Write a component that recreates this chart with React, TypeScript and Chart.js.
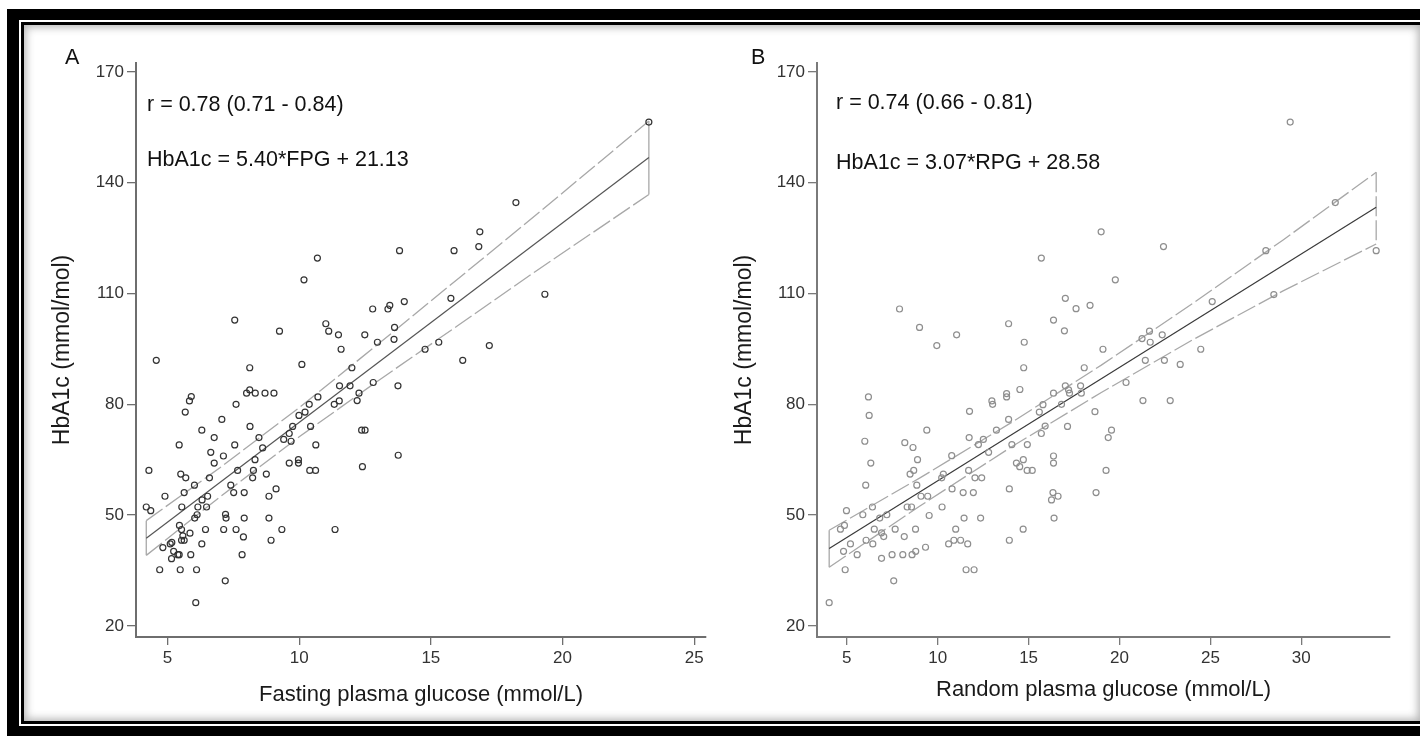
import React, { useEffect, useRef } from "react";
import { Chart, registerables } from "chart.js";

Chart.register(...registerables);

const FONT = "'Liberation Sans', Arial, Helvetica, sans-serif";

// ---- Panel A: fasting plasma glucose (mmol/L) vs HbA1c (mmol/mol) ----
const fpgA = [
  10.69, 10.18, 7.55, 12.79, 9.25, 11.01, 11.12, 11.49, 12.49, 11.59,
  12.97, 4.57, 8.12, 10.1, 12.0, 8.12, 8.0, 8.33, 8.7, 9.04,
  5.9, 5.83, 5.67, 7.6, 7.06, 6.3, 6.77, 5.44, 7.55, 8.13,
  8.47, 8.61, 11.53, 11.93, 12.27, 12.2, 12.81, 11.33, 11.52, 10.71,
  10.38, 10.22, 9.99, 9.75, 10.43, 9.62, 9.41, 9.69, 12.37, 12.5,
  10.63, 6.64, 7.12, 6.77, 8.32, 9.62, 9.97, 9.97, 10.4, 10.62,
  12.4, 4.29, 5.5, 5.69, 6.59, 7.66, 8.26, 8.23, 8.75, 6.02,
  4.9, 5.63, 6.31, 6.52, 7.4, 7.51, 7.91, 9.12, 8.85, 4.19,
  4.36, 5.54, 6.15, 6.48, 6.03, 6.12, 7.2, 7.22, 7.91, 8.85,
  5.45, 5.53, 5.58, 5.63, 5.53, 5.85, 6.44, 7.13, 7.6, 7.88,
  9.34, 11.36, 8.93, 6.3, 4.82, 5.1, 5.16, 5.23, 5.39, 5.44,
  5.15, 5.88, 7.83, 4.7, 5.48, 6.1, 7.19, 6.07, 23.28, 18.23,
  16.86, 16.82, 13.81, 15.88, 13.99, 13.44, 13.37, 15.76, 13.62, 13.6,
  14.78, 15.3, 16.21, 17.22, 19.33, 13.75, 13.76,
];
const hba1cA = [
  119.6, 113.7, 102.8, 105.8, 99.8, 101.8, 99.8, 98.8, 98.8, 94.9,
  96.8, 91.9, 89.9, 90.8, 89.9, 83.9, 83.0, 83.0, 83.0, 83.0,
  82.1, 80.9, 77.9, 80.0, 75.9, 73.0, 71.0, 69.0, 69.0, 74.0,
  71.0, 68.2, 85.0, 85.0, 83.0, 81.0, 85.9, 80.0, 80.9, 82.0,
  80.0, 77.9, 77.0, 74.0, 74.0, 72.1, 70.5, 70.0, 73.0, 73.0,
  69.0, 67.0, 66.0, 64.1, 65.0, 64.1, 65.0, 64.1, 62.1, 62.1,
  63.1, 62.1, 61.1, 60.1, 60.1, 62.1, 62.1, 60.1, 61.1, 58.1,
  55.1, 56.1, 54.1, 55.1, 58.1, 56.1, 56.1, 57.1, 55.1, 52.2,
  51.2, 52.2, 52.2, 52.2, 49.2, 50.1, 50.2, 49.2, 49.2, 49.2,
  47.2, 46.1, 44.4, 43.2, 43.2, 45.1, 46.1, 46.1, 46.1, 44.1,
  46.1, 46.1, 43.2, 42.2, 41.2, 42.2, 42.6, 40.2, 39.3, 39.3,
  38.2, 39.3, 39.3, 35.2, 35.2, 35.2, 32.2, 26.3, 156.4, 134.6,
  126.7, 122.7, 121.6, 121.6, 107.8, 106.8, 105.8, 108.7, 100.8, 97.6,
  94.9, 96.8, 91.9, 95.9, 109.8, 85.0, 66.2,
];
// 95% confidence band of the fitted line, panel A
const ciXA = [4.19, 7, 10, 13, 16, 19, 23.28];
const ciUpperA = [48.5, 62.9, 79.1, 96.3, 113.8, 131.3, 156.7];
const ciLowerA = [39.1, 55.0, 71.2, 86.4, 101.2, 116.1, 136.8];
const slopeA = 5.4;
const interceptA = 21.13;
const rA = [0.78, 0.71, 0.84];

// ---- Panel B: random plasma glucose (mmol/L) vs HbA1c (mmol/mol) ----
const rpgB = [
  15.7, 16.37, 7.9, 9.0, 9.95, 11.04, 13.9, 14.76, 14.73, 14.52,
  12.98, 13.02, 13.79, 13.79, 6.19, 6.23, 5.99, 9.4, 8.19, 8.64,
  11.75, 11.73, 12.51, 12.24, 13.23, 13.9, 15.59, 15.79, 16.37, 15.91,
  15.7, 14.08, 14.93, 6.32, 6.04, 8.89, 8.68, 8.48, 8.85, 9.08,
  9.45, 8.32, 8.56, 9.53, 10.24, 10.31, 10.22, 10.77, 12.8, 11.7,
  12.05, 12.42, 10.79, 11.4, 11.96, 11.45, 12.36, 10.99, 10.6, 10.89,
  11.26, 11.65, 11.56, 12.0, 13.94, 13.94, 14.33, 14.51, 14.71, 14.92,
  15.2, 14.7, 16.37, 16.37, 16.34, 16.26, 16.62, 16.4, 4.98, 4.65,
  4.87, 5.88, 6.41, 6.81, 7.2, 6.51, 6.91, 7.03, 6.06, 6.43,
  7.66, 8.16, 8.78, 5.2, 4.82, 5.57, 6.91, 7.49, 8.08, 8.59,
  8.79, 9.33, 4.91, 7.58, 4.03, 29.39, 31.87, 34.12, 28.05, 28.49,
  25.1, 18.99, 22.42, 19.77, 17.02, 17.61, 18.38, 16.97, 19.09, 18.06,
  24.47, 21.24, 21.65, 21.69, 22.35, 21.42, 22.47, 23.34, 20.36, 21.29,
  22.79, 18.65, 17.86, 17.9, 17.02, 17.2, 17.25, 16.81, 17.14, 19.56,
  19.38, 19.26, 18.71,
];
const hba1cB = [
  119.6, 102.8, 105.8, 100.8, 95.9, 98.8, 101.8, 96.8, 89.9, 84.0,
  80.9, 80.0, 82.9, 82.0, 82.0, 77.0, 70.0, 73.0, 69.6, 68.3,
  78.1, 71.0, 70.5, 69.1, 73.0, 75.9, 77.9, 79.9, 83.0, 74.1,
  72.1, 69.1, 69.1, 64.1, 58.1, 65.0, 62.1, 61.1, 58.1, 55.1,
  55.1, 52.2, 52.2, 49.9, 52.2, 61.1, 60.1, 66.1, 67.0, 62.1,
  60.1, 60.1, 57.1, 56.1, 56.1, 49.2, 49.2, 46.2, 42.2, 43.2,
  43.2, 42.2, 35.2, 35.2, 57.1, 43.2, 64.1, 63.1, 65.0, 62.1,
  62.1, 46.2, 66.0, 64.1, 56.1, 54.1, 55.1, 49.2, 51.2, 46.2,
  47.2, 50.1, 52.2, 49.2, 50.1, 46.2, 45.2, 44.2, 43.2, 42.2,
  46.2, 44.2, 46.2, 42.2, 40.2, 39.3, 38.3, 39.3, 39.3, 39.3,
  40.2, 41.3, 35.2, 32.2, 26.3, 156.4, 134.6, 121.6, 121.6, 109.7,
  107.8, 126.7, 122.7, 113.7, 108.7, 105.9, 106.8, 99.9, 94.9, 89.9,
  94.9, 97.8, 99.8, 96.8, 98.8, 91.9, 91.9, 90.8, 85.9, 81.0,
  81.0, 78.0, 85.0, 83.0, 85.0, 83.9, 83.0, 80.0, 74.0, 73.0,
  71.0, 62.1, 56.1,
];
// 95% confidence band of the fitted line, panel B
const ciXB = [4.03, 9, 14, 19, 24, 29, 34.12];
const ciUpperB = [45.9, 60.0, 74.9, 90.6, 107.2, 124.5, 142.8];
const ciLowerB = [35.9, 52.4, 68.3, 83.2, 97.4, 110.7, 123.4];
const slopeB = 3.07;
const interceptB = 28.58;
const rB = [0.74, 0.66, 0.81];

// Shared axis ticks
const yTicks = [20, 50, 80, 110, 140, 170];
const xTicksA = [5, 10, 15, 20, 25];
const xTicksB = [5, 10, 15, 20, 25, 30];

const Y_MIN = 17.0;
const Y_MAX = 172.4;
const CANVAS_H = 738;
const PLOT_TOP = 63;
const PLOT_BOTTOM = 637;

type PanelSpec = {
  xs: number[];
  ys: number[];
  xMin: number;
  xMax: number;
  xTicks: number[];
  ciX: number[];
  ciUp: number[];
  ciLo: number[];
  slope: number;
  intercept: number;
  pointColor: string;
  fitColor: string;
  ciColor: string;
  axisColor: string;
  rightCapDash: number[];
  xTitle: string;
  canvasW: number;
  yAxisW: number;
  padRight: number;
  yTitlePad: number;
  xTitlePad: number;
};

function buildConfig(s: PanelSpec): any {
  const points = s.xs.map((x, i) => ({ x, y: s.ys[i] }));
  const x0 = Math.min(...s.xs);
  const x1 = Math.max(...s.xs);
  const fit = [x0, x1].map((x) => ({ x, y: s.slope * x + s.intercept }));
  const upper = s.ciX.map((x, i) => ({ x, y: s.ciUp[i] }));
  const lower = s.ciX.map((x, i) => ({ x, y: s.ciLo[i] }));
  const n = s.ciX.length - 1;
  const leftCap = [
    { x: s.ciX[0], y: s.ciUp[0] },
    { x: s.ciX[0], y: s.ciLo[0] },
  ];
  const rightCap = [
    { x: s.ciX[n], y: s.ciUp[n] },
    { x: s.ciX[n], y: s.ciLo[n] },
  ];
  const line = (data: any[], color: string, width: number, dash: number[]) => ({
    type: "scatter",
    data,
    showLine: true,
    borderColor: color,
    borderWidth: width,
    borderDash: dash,
    pointRadius: 0,
    pointHoverRadius: 0,
    fill: false,
    tension: 0,
  });

  return {
    type: "scatter",
    data: {
      datasets: [
        {
          type: "scatter",
          data: points,
          pointStyle: "circle",
          pointRadius: 3,
          pointHoverRadius: 3,
          borderWidth: 1.2,
          borderColor: s.pointColor,
          backgroundColor: "rgba(0,0,0,0)",
          showLine: false,
        },
        line(fit, s.fitColor, 1.2, []),
        line(upper, s.ciColor, 1.3, [20, 4]),
        line(lower, s.ciColor, 1.3, [20, 4]),
        line(leftCap, s.ciColor, 1.3, []),
        line(rightCap, s.ciColor, 1.3, s.rightCapDash),
      ],
    },
    options: {
      responsive: false,
      maintainAspectRatio: false,
      animation: false,
      events: [],
      layout: { padding: { left: 0, top: PLOT_TOP, right: s.padRight, bottom: 0 } },
      plugins: { legend: { display: false }, tooltip: { enabled: false } },
      scales: {
        x: {
          type: "linear",
          min: s.xMin,
          max: s.xMax,
          afterBuildTicks: (scale: any) => {
            scale.ticks = s.xTicks.map((v) => ({ value: v }));
          },
          afterFit: (scale: any) => {
            scale.height = CANVAS_H - PLOT_BOTTOM;
          },
          grid: {
            display: true,
            drawOnChartArea: false,
            drawTicks: true,
            tickLength: 8,
            color: s.axisColor,
            lineWidth: 1.3,
          },
          border: { display: true, color: s.axisColor, width: 2 },
          ticks: {
            color: "#333",
            font: { family: FONT, size: 17 },
            padding: 3,
            maxRotation: 0,
            autoSkip: false,
          },
          title: {
            display: true,
            text: s.xTitle,
            color: "#1a1a1a",
            font: { family: FONT, size: 22 },
            padding: { top: 0, bottom: s.xTitlePad },
          },
        },
        y: {
          type: "linear",
          min: Y_MIN,
          max: Y_MAX,
          afterBuildTicks: (scale: any) => {
            scale.ticks = yTicks.map((v) => ({ value: v }));
          },
          afterFit: (scale: any) => {
            scale.width = s.yAxisW;
          },
          grid: {
            display: true,
            drawOnChartArea: false,
            drawTicks: true,
            tickLength: 9,
            color: s.axisColor,
            lineWidth: 1.3,
          },
          border: { display: true, color: s.axisColor, width: 2 },
          ticks: {
            color: "#333",
            font: { family: FONT, size: 17 },
            padding: 3,
            autoSkip: false,
          },
          title: {
            display: true,
            text: "HbA1c (mmol/mol)",
            color: "#1a1a1a",
            font: { family: FONT, size: 23 },
            padding: { top: s.yTitlePad, bottom: 0 },
          },
        },
      },
    },
  };
}

const panelA: PanelSpec = {
  xs: fpgA,
  ys: hba1cA,
  xMin: 3.8,
  xMax: 25.45,
  xTicks: xTicksA,
  ciX: ciXA,
  ciUp: ciUpperA,
  ciLo: ciLowerA,
  slope: slopeA,
  intercept: interceptA,
  pointColor: "#333333",
  fitColor: "#555555",
  ciColor: "#a8a8a8",
  axisColor: "#6e6e6e",
  rightCapDash: [],
  xTitle: "Fasting plasma glucose (mmol/L)",
  canvasW: 712,
  yAxisW: 136,
  padRight: 6,
  yTitlePad: 49,
  xTitlePad: 30,
};

const panelB: PanelSpec = {
  xs: rpgB,
  ys: hba1cB,
  xMin: 3.36,
  xMax: 34.88,
  xTicks: xTicksB,
  ciX: ciXB,
  ciUp: ciUpperB,
  ciLo: ciLowerB,
  slope: slopeB,
  intercept: interceptB,
  pointColor: "#8e8e8e",
  fitColor: "#3a3a3a",
  ciColor: "#a8a8a8",
  axisColor: "#7a7a7a",
  rightCapDash: [20, 4],
  xTitle: "Random plasma glucose (mmol/L)",
  canvasW: 708,
  yAxisW: 105,
  padRight: 30,
  yTitlePad: 19,
  xTitlePad: 35,
};

function ScatterPanel({ spec, left }: { spec: PanelSpec; left: number }) {
  const ref = useRef<HTMLCanvasElement | null>(null);
  useEffect(() => {
    if (!ref.current) return;
    const chart = new Chart(ref.current, buildConfig(spec));
    return () => chart.destroy();
  }, [spec]);
  return (
    <canvas
      ref={ref}
      width={spec.canvasW}
      height={CANVAS_H}
      style={{ position: "absolute", left, top: 0, width: spec.canvasW, height: CANVAS_H }}
    />
  );
}

const fmt = (v: number) => v.toFixed(2);

function Label({ text, left, top }: { text: string; left: number; top: number }) {
  return (
    <div
      style={{
        position: "absolute",
        left,
        top,
        fontFamily: FONT,
        fontSize: 21.5,
        lineHeight: "21px",
        color: "#111",
        whiteSpace: "nowrap",
      }}
    >
      {text}
    </div>
  );
}

export default function App() {
  return (
    <div
      style={{
        position: "fixed",
        left: 0,
        top: 0,
        width: 1420,
        height: 738,
        overflow: "hidden",
        background: "#fff",
      }}
    >
      {/* double black frame with a soft inner shadow */}
      <div style={{ position: "absolute", left: 7, top: 9, width: 1440, height: 727, background: "#000" }} />
      <div style={{ position: "absolute", left: 19, top: 20, width: 1440, height: 706, background: "#fff" }} />
      <div style={{ position: "absolute", left: 21, top: 22, width: 1440, height: 702, background: "#000" }} />
      <div
        style={{
          position: "absolute",
          left: 24,
          top: 25,
          width: 1396,
          height: 696,
          background: "#fff",
          boxShadow: "inset 0 0 9px 2px rgba(0,0,0,0.3)",
        }}
      />

      <ScatterPanel spec={panelA} left={0} />
      <ScatterPanel spec={panelB} left={712} />

      <Label text="A" left={65} top={47} />
      <Label text={`r = ${fmt(rA[0])} (${fmt(rA[1])} - ${fmt(rA[2])})`} left={147} top={94} />
      <Label text={`HbA1c = ${fmt(slopeA)}*FPG + ${fmt(interceptA)}`} left={147} top={149} />

      <Label text="B" left={751} top={47} />
      <Label text={`r = ${fmt(rB[0])} (${fmt(rB[1])} - ${fmt(rB[2])})`} left={836} top={92} />
      <Label text={`HbA1c = ${fmt(slopeB)}*RPG + ${fmt(interceptB)}`} left={836} top={152} />
    </div>
  );
}
